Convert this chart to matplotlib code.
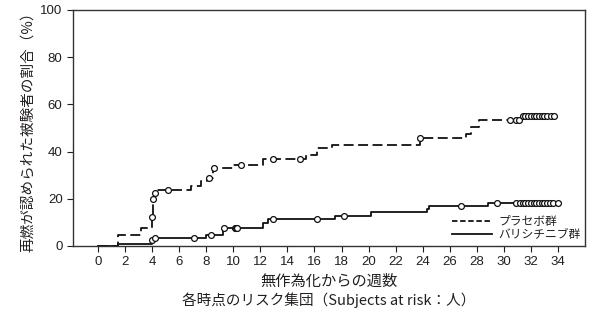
import matplotlib
matplotlib.use("Agg")
import matplotlib.pyplot as plt
from matplotlib.lines import Line2D

plt.rcParams['font.family'] = ['Noto Sans CJK JP', 'DejaVu Sans']

# Placebo step curve
placebo_t = [0, 1.45, 3.2, 4.0, 4.1, 4.2, 4.35, 6.9, 7.6, 8.05, 8.5, 10.0, 12.2, 15.35, 16.2, 17.3, 23.8, 27.2, 27.6, 28.2, 31.3, 33.8]
placebo_v = [0, 4.8, 7.6, 12.1, 19.8, 22.3, 23.7, 25.5, 27.5, 29.0, 32.9, 34.3, 36.9, 38.6, 41.4, 43.0, 45.6, 47.5, 50.3, 53.4, 55.2, 55.2]
placebo_ct = [4.0, 4.1, 4.2, 5.2, 8.2, 8.6, 10.6, 12.9, 14.9, 23.8, 30.45, 30.9, 31.15,
              31.4, 31.6, 31.8, 32.0, 32.2, 32.4, 32.6, 32.8, 33.0, 33.2, 33.5, 33.7]
placebo_cv = [12.1, 19.8, 22.3, 23.7, 29.0, 32.9, 34.3, 36.9, 36.9, 45.6, 53.4, 53.4, 53.4,
              55.2, 55.2, 55.2, 55.2, 55.2, 55.2, 55.2, 55.2, 55.2, 55.2, 55.2, 55.2]

# Baricitinib step curve
bari_t = [0, 1.45, 4.0, 4.2, 8.0, 9.26, 12.2, 12.6, 17.5, 20.2, 24.3, 24.5, 28.8, 34.0]
bari_v = [0, 1.0, 2.5, 3.5, 4.7, 7.5, 9.9, 11.4, 12.8, 14.3, 15.7, 16.9, 18.4, 18.4]
bari_ct = [4.0, 4.2, 7.1, 8.35, 9.3, 10.1, 10.2, 10.3, 12.9, 16.2, 18.2, 26.8, 29.5,
           30.9, 31.2, 31.4, 31.6, 31.8, 32.0, 32.2, 32.4, 32.6, 32.8, 33.0, 33.2, 33.4, 33.6, 34.0]
bari_cv = [2.5, 3.5, 3.5, 4.7, 7.5, 7.5, 7.5, 7.5, 11.4, 11.4, 12.8, 16.9, 18.4,
           18.4, 18.4, 18.4, 18.4, 18.4, 18.4, 18.4, 18.4, 18.4, 18.4, 18.4, 18.4, 18.4, 18.4, 18.4]

labels = ['プラセボ群', 'バリシチニブ群']
xticks = list(range(0, 35, 2))
yticks = [0, 20, 40, 60, 80, 100]

txt = '#231f20'
fig = plt.figure(figsize=(5.95, 3.16), dpi=100)
ax = fig.add_axes([73/595, 1-246/316, (585-73)/595, (246-10)/316])

ax.step(placebo_t, placebo_v, where='post', color='#111111', lw=1.3, linestyle=(0, (5.5, 2.5)))
ax.step(bari_t, bari_v, where='post', color='#111111', lw=1.3)
ax.plot(placebo_ct, placebo_cv, 'o', ms=4.2, mfc='white', mec='#111111', mew=0.9, ls='none')
ax.plot(bari_ct, bari_cv, 'o', ms=4.2, mfc='white', mec='#111111', mew=0.9, ls='none')

ax.set_xlim(-1.85, 36.0)
ax.set_ylim(0, 100)
ax.set_xticks(xticks)
ax.set_yticks(yticks)
ax.tick_params(axis='both', direction='out', length=4, width=0.8, colors=txt, labelsize=9.5)
for lab in ax.get_xticklabels() + ax.get_yticklabels():
    lab.set_family(['Liberation Sans', 'DejaVu Sans'])
for s in ax.spines.values():
    s.set_color('#333333')
    s.set_linewidth(1.0)

ax.set_ylabel('再燃が認められた被験者の割合（%）', fontsize=10.5, color=txt, labelpad=4)
ax.set_xlabel('無作為化からの週数', fontsize=11, color=txt, labelpad=3)
fig.text(329/595, 1-300/316, '各時点のリスク集団（Subjects at risk：人）', fontsize=10.5,
         color=txt, ha='center', va='center')

handles = [Line2D([], [], color='#111111', lw=1.3, linestyle=(0, (3, 1.5))),
           Line2D([], [], color='#111111', lw=1.3)]
leg = ax.legend(handles, labels, loc='lower right', frameon=False, fontsize=8.5,
                handlelength=3.4, handletextpad=0.5, labelspacing=0.05,
                borderaxespad=0.0, labelcolor=txt)

fig.savefig('out.png', dpi=100)
